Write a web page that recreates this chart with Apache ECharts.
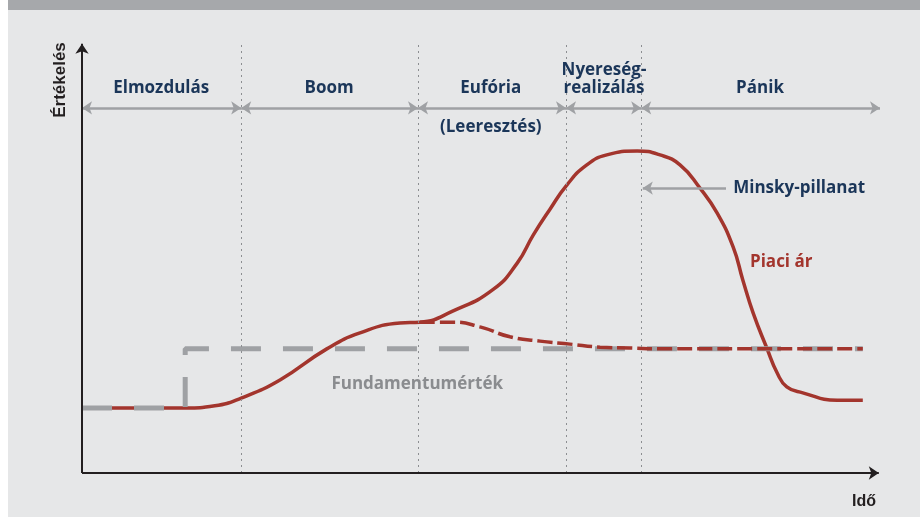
<!DOCTYPE html>
<html>
<head>
<meta charset="utf-8">
<script src="https://cdn.jsdelivr.net/npm/echarts@6/dist/echarts.min.js"></script>
<style>
  html, body { margin: 0; padding: 0; background: #fff; }
  #chart { width: 920px; height: 517px; }
</style>
</head>
<body>
<div id="chart"></div>
<script>
  // idő (0..100) és értékelés (0..100) absztrakt skálán
  var piaciAr = [
    [0, 15.1], [12.9, 15.1], [16.6, 15.6], [19.9, 17.4], [24.75, 21.6], [30.6, 28.8],
    [34.75, 32.5], [39.75, 34.8], [42.25, 35.0], [46.4, 37.6], [51.4, 42.6], [54.4, 48.7],
    [56.4, 55.2], [58.5, 61.2], [60.6, 66.8], [63.1, 71.5], [65.6, 73.8], [69.4, 74.7],
    [72.25, 73.8], [74.75, 71.5], [77.25, 66.1], [79.4, 60.3], [81.4, 52.4], [82.6, 44.8],
    [83.9, 37.1], [85.6, 29.0], [86.9, 23.2], [88.1, 20.0], [90.1, 18.6], [94.4, 16.9], [97.6, 16.9]
  ];
  var leeresztes = [
    [42.25, 35.0], [46.4, 35.0], [49.75, 33.9], [53.5, 31.6], [57.25, 30.6], [61, 29.9],
    [64.75, 29.2], [68.5, 29.0], [72.25, 28.8], [97.6, 28.8]
  ];
  var fundamentum = [[0, 15.1], [12.9, 15.1], [12.9, 28.8], [97.6, 28.8]];

  var fazisHatarok = [0, 19.9, 42, 60.5, 69.9, 99.75];
  var fazisSzint = 84.7;
  var fazisCimkek = [
    { name: 'Elmozdulás', value: [9.9, 89.3] },
    { name: 'Boom', value: [30.9, 89.3] },
    { name: 'Eufória', value: [51.1, 89.3] },
    { name: '(Leeresztés)', value: [51.1, 80.3] },
    { name: 'Nyereség-', value: [65.25, 93.4] },
    { name: 'realizálás', value: [65.25, 89.3] },
    { name: 'Pánik', value: [84.75, 89.3] }
  ];
  var minskyNyil = [[80.5, 66.1], [70.1, 66.1]];
  var tengelyVeg = { x: 99.6, y: 99.6 };

  var NAVY = '#1b3659', RED = '#a3352d', GRAY = '#9fa1a4', DARK = '#231f20';
  var FONT = '"Open Sans", sans-serif';

  var chart = echarts.init(document.getElementById('chart'));

  var fazisNyilak = [];
  for (var i = 0; i < fazisHatarok.length - 1; i++) {
    fazisNyilak.push([
      { coord: [fazisHatarok[i], fazisSzint], symbol: 'arrow' },
      { coord: [fazisHatarok[i + 1], fazisSzint], symbol: 'arrow' }
    ]);
  }
  var pontozott = fazisHatarok.slice(1, 5).map(function (t) {
    return [
      { coord: [t, 0], symbol: 'none', lineStyle: { color: '#8c8e91', type: [2, 4], width: 1 } },
      { coord: [t, 100], symbol: 'none' }
    ];
  });
  var tengelyek = [
    [{ coord: [0, 0], symbol: 'none', symbolSize: [12, 16], lineStyle: { color: DARK, width: 2 } },
     { coord: [tengelyVeg.x, 0], symbol: 'arrow' }],
    [{ coord: [0, 0], symbol: 'none', symbolSize: [12, 16], lineStyle: { color: DARK, width: 2 } },
     { coord: [0, tengelyVeg.y], symbol: 'arrow' }]
  ];

  chart.setOption({
    backgroundColor: '#e6e7e8',
    animation: false,
    grid: { left: 82, right: 38, top: 42, bottom: 44 },
    xAxis: {
      type: 'value', min: 0, max: 100, show: false, splitLine: { show: false }
    },
    yAxis: {
      type: 'value', min: 0, max: 100, show: false, splitLine: { show: false }
    },
    graphic: [
      { type: 'rect', shape: { x: 0, y: 0, width: 8, height: 517 }, style: { fill: '#fff' } },
      { type: 'rect', shape: { x: 8, y: 0, width: 912, height: 10 }, style: { fill: '#a6a8ab' } },
      { type: 'text', x: 60, y: 80, rotation: Math.PI / 2,
        style: { text: 'Értékelés', font: 'bold 17px "Liberation Sans", sans-serif', fill: DARK, align: 'center', verticalAlign: 'middle' } },
      { type: 'text', x: 864, y: 502,
        style: { text: 'Idő', font: 'bold 16px "Liberation Sans", sans-serif', fill: DARK, align: 'center', verticalAlign: 'middle' } }
    ],
    series: [
      {
        name: 'Piaci ár', type: 'line', data: piaciAr, smooth: 0.5, showSymbol: false, z: 2,
        lineStyle: { color: RED, width: 3.5 }
      },
      {
        name: 'Leeresztés', type: 'line', data: leeresztes, smooth: 0.5, showSymbol: false, z: 3,
        lineStyle: { color: RED, width: 3.5, type: [15, 5] }
      },
      {
        name: 'Fundamentumérték', type: 'line', data: fundamentum, showSymbol: false, z: 2,
        lineStyle: { color: GRAY, width: 5, type: [30, 22] },
        markLine: {
          silent: true, animation: false, label: { show: false },
          symbolSize: [10, 10],
          lineStyle: { color: GRAY, width: 2.5, type: 'solid' },
          data: pontozott.concat(fazisNyilak).concat(tengelyek).concat([[
            { coord: minskyNyil[0], symbol: 'none' },
            { coord: minskyNyil[1], symbol: 'arrow' }
          ]])
        }
      },
      {
        type: 'scatter', symbolSize: 0, silent: true, z: 5,
        itemStyle: { opacity: 1 },
        data: fazisCimkek,
        label: {
          show: true, position: 'inside', formatter: '{b}', opacity: 1,
          color: NAVY, fontFamily: FONT, fontWeight: 'bold', fontSize: 17
        }
      },
      {
        type: 'scatter', symbolSize: 0, silent: true, z: 5,
        itemStyle: { opacity: 1 },
        data: [
          { name: 'Minsky-pillanat', value: [81.4, 66.1], label: { color: NAVY, position: 'right' } },
          { name: 'Piaci ár', value: [83.5, 49], label: { color: RED, position: 'right' } },
          { name: 'Fundamentumérték', value: [41.9, 20.6], label: { color: '#8a8c8f', position: 'inside' } }
        ],
        label: {
          show: true, formatter: '{b}', distance: 0, opacity: 1,
          fontFamily: FONT, fontWeight: 'bold', fontSize: 17
        }
      }
    ]
  });
</script>
</body>
</html>
